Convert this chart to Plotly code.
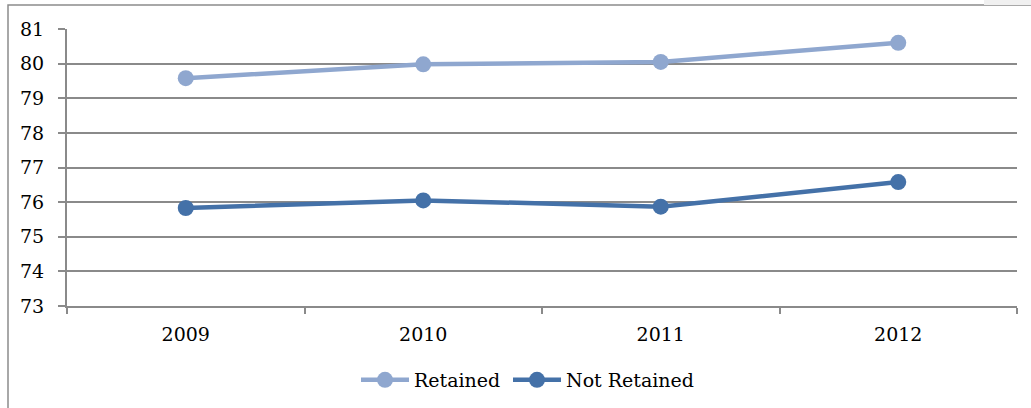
import plotly.graph_objects as go

years = ["2009", "2010", "2011", "2012"]
retained = [79.58, 79.98, 80.05, 80.60]
not_retained = [75.83, 76.05, 75.87, 76.58]
y_ticks = [73, 74, 75, 76, 77, 78, 79, 80, 81]

FONT = "DejaVu Serif"
GRID = "#8a8a8a"
TXT = "#000000"

fig = go.Figure()
fig.add_trace(go.Scatter(
    x=years, y=retained, name="Retained", mode="lines+markers",
    line=dict(color="#8fa7cf", width=4.5),
    marker=dict(color="#8fa7cf", size=16),
    legendwidth=89,
))
fig.add_trace(go.Scatter(
    x=years, y=not_retained, name="Not Retained", mode="lines+markers",
    line=dict(color="#4471a8", width=4.5),
    marker=dict(color="#4471a8", size=16),
    legendwidth=140,
))

W, H = 1031, 408
L, R, T, B = 67, 14, 29, 102
pw, ph = W - L - R, H - T - B

def px_to_paper_x(px):
    return (px - L) / pw

def px_to_paper_y(py):
    return (H - B - py) / ph

fig.update_layout(
    width=W, height=H,
    margin=dict(l=L, r=R, t=T, b=B, autoexpand=False),
    paper_bgcolor="white", plot_bgcolor="white",
    font=dict(family=FONT, size=19, color=TXT),
    showlegend=True,
    legend=dict(orientation="h", x=px_to_paper_x(356), xanchor="left",
                y=px_to_paper_y(380), yanchor="middle",
                font=dict(family=FONT, size=19, color=TXT),
                itemwidth=48, tracegroupgap=0),
    xaxis=dict(type="category", range=[-0.5, 3.5], tickson="boundaries",
               ticks="outside", ticklen=6, tickcolor=GRID, tickwidth=1.5,
               showline=True, linecolor=GRID, linewidth=2,
               showgrid=False, ticklabelstandoff=10,
               tickfont=dict(family=FONT, size=19, color=TXT)),
    yaxis=dict(range=[73, 81], tickvals=y_ticks, ticks="outside", ticklen=7,
               tickcolor=GRID, tickwidth=1.5,
               showline=True, linecolor=GRID, linewidth=2,
               showgrid=True, gridcolor=GRID, gridwidth=1.8, zeroline=False,
               ticklabelstandoff=10,
               tickfont=dict(family=FONT, size=19, color=TXT)),
    shapes=[
        dict(type="rect", xref="paper", yref="paper",
             x0=px_to_paper_x(8), x1=px_to_paper_x(1100),
             y0=px_to_paper_y(500), y1=px_to_paper_y(5),
             line=dict(color="#8c8c8c", width=1.5), layer="below"),
        dict(type="rect", xref="paper", yref="paper",
             x0=px_to_paper_x(984), x1=px_to_paper_x(1031),
             y0=px_to_paper_y(5), y1=px_to_paper_y(0),
             line=dict(width=0), fillcolor="#f0f0f0", layer="below"),
    ],
)

fig.write_html("out.html", config={"displayModeBar": False},
               post_script="document.body.style.margin='0px';document.body.style.overflow='hidden';")
